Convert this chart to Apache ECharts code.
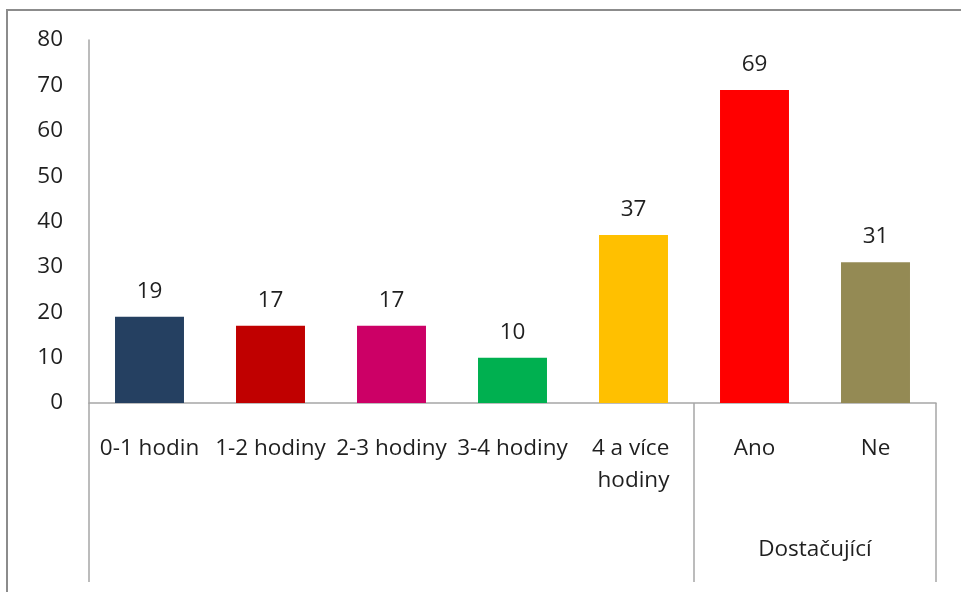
<!DOCTYPE html>
<html>
<head>
<meta charset="utf-8">
<script src="https://cdn.jsdelivr.net/npm/echarts@6/dist/echarts.min.js"></script>
<style>
html,body{margin:0;padding:0;overflow:hidden;background:#fff;}
#frame{position:absolute;left:6px;top:9px;width:2000px;height:2000px;border-left:2px solid #8c8c8c;border-top:2px solid #8c8c8c;}
#chart{position:absolute;left:0;top:0;width:961px;height:592px;}
</style>
</head>
<body>
<div id="frame"></div>
<div id="chart"></div>
<script>
const categories = ['0-1 hodin', '1-2 hodiny', '2-3 hodiny', '3-4 hodiny', '4 a více hodiny', 'Ano', 'Ne'];
const values = [19, 17, 17, 10, 37, 69, 31];
const barColors = ['#254061', '#C00000', '#CC0066', '#00B050', '#FFC000', '#FF0000', '#948A54'];
const groupNames = ['', 'Dostačující'];
const groupSpans = [5, 2];
const yTicks = [0, 10, 20, 30, 40, 50, 60, 70, 80];

// group boundaries and centers derived from spans
const groupBounds = [0];
groupSpans.forEach(s => groupBounds.push(groupBounds[groupBounds.length - 1] + s));
const groupCenters = groupSpans.map((s, i) => groupBounds[i] + s / 2);

const FONT = 'Open Sans';
const TXT = '#1f1f1f';
const AXIS = '#a6a6a6';

const chart = echarts.init(document.getElementById('chart'), null, {renderer: 'canvas'});
chart.setOption({
  animation: false,
  grid: {left: 89, right: 25, top: 40, bottom: 189, containLabel: false},
  xAxis: [{
    type: 'category',
    data: categories,
    axisLine: {show: true, lineStyle: {color: AXIS, width: 1.5}},
    axisTick: {show: false},
    axisLabel: {
      interval: 0, margin: 30, fontFamily: FONT, fontSize: 22.5, color: TXT,
      width: 119, overflow: 'break', lineHeight: 32
    }
  }, {
    type: 'value',
    position: 'bottom',
    min: 0, max: categories.length,
    axisLine: {show: false},
    splitLine: {show: false},
    axisTick: {show: true, customValues: groupBounds, length: 179, lineStyle: {color: AXIS, width: 1.5}},
    axisLabel: {
      show: true, customValues: groupCenters, margin: 135,
      fontFamily: FONT, fontSize: 22.5, color: TXT,
      formatter: v => { const i = groupCenters.indexOf(v); return i >= 0 ? groupNames[i] : ''; }
    }
  }],
  yAxis: {
    type: 'value', min: 0, max: 80, interval: 10,
    axisLine: {show: true, lineStyle: {color: AXIS, width: 1.5}},
    axisTick: {show: false},
    splitLine: {show: false},
    axisLabel: {margin: 26, fontFamily: FONT, fontSize: 22.5, color: TXT,
      formatter: v => yTicks.includes(v) ? String(v) : ''}
  },
  series: [{
    type: 'bar',
    xAxisIndex: 0,
    barWidth: '57%',
    data: values.map((v, i) => ({value: v, itemStyle: {color: barColors[i]}})),
    label: {show: true, position: 'top', distance: 14, fontFamily: FONT, fontSize: 22.5, color: TXT}
  }]
});
</script>
</body>
</html>
